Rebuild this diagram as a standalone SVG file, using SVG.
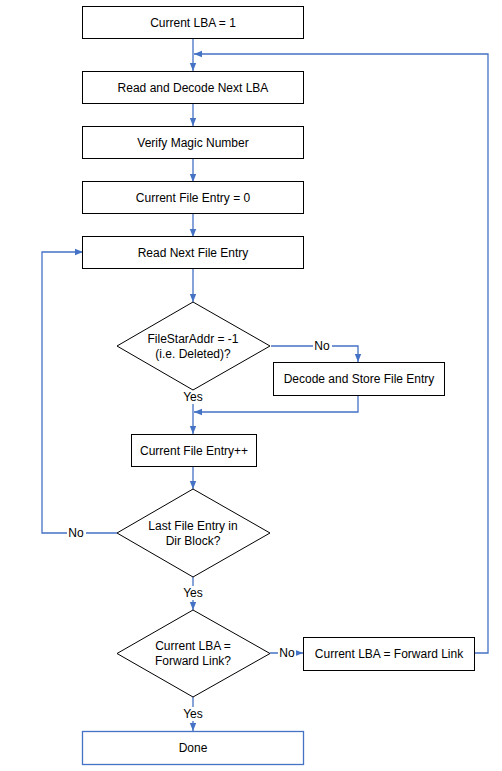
<svg xmlns="http://www.w3.org/2000/svg" width="502" height="771" viewBox="0 0 502 771">
<defs>
<marker id="ah" markerUnits="userSpaceOnUse" markerWidth="8" markerHeight="8" viewBox="0 0 8 8" refX="8" refY="4" orient="auto">
<path d="M0,0.8 L8,4 L0,7.2 Z" fill="#4472C4"/>
</marker>
<style>
.box{fill:#fff;stroke:#000;stroke-width:1}
.blue{fill:#fff;stroke:#4472C4;stroke-width:1.3}
.t{font-family:"Liberation Sans",Arial,sans-serif;font-size:12px;fill:#000;text-anchor:middle}
.c{fill:none;stroke:#4472C4;stroke-width:1.3}
.a{marker-end:url(#ah)}
.lb{fill:#fff}
</style>
</defs>
<rect width="502" height="771" fill="#fff"/>
<g id="connectors">
<path class="c a" d="M193,38 V71"/>
<path class="c a" d="M474,653 H488 V54 H194"/>
<path class="c a" d="M193,103 V126"/>
<path class="c a" d="M193,158 V182"/>
<path class="c a" d="M193,214 V237"/>
<path class="c a" d="M193,269 V302"/>
<path class="c a" d="M271,346 H358 V362"/>
<path class="c a" d="M193,389 V434"/>
<path class="c a" d="M358,395 V412 H194"/>
<path class="c a" d="M193,467 V489"/>
<path class="c a" d="M117,533 H42 V252 H83"/>
<path class="c a" d="M193,577 V610"/>
<path class="c a" d="M270,653 H303"/>
<path class="c a" d="M193,697 V731"/>
<rect class="lb" x="313" y="339" width="19" height="14"/>
<text class="t" x="322" y="350">No</text>
<rect class="lb" x="182" y="390" width="22" height="14"/>
<text class="t" x="193" y="401">Yes</text>
<rect class="lb" x="67" y="526" width="19" height="14"/>
<text class="t" x="76" y="537">No</text>
<rect class="lb" x="182" y="586" width="22" height="14"/>
<text class="t" x="193" y="597">Yes</text>
<rect class="lb" x="278" y="646" width="18" height="14"/>
<text class="t" x="287" y="657">No</text>
<rect class="lb" x="182" y="707" width="22" height="14"/>
<text class="t" x="193" y="718">Yes</text>
</g>
<g id="n1"><rect class="box" x="82.5" y="6.5" width="221" height="32"/><text class="t" x="193" y="26.5">Current LBA = 1</text></g>
<g id="n2"><rect class="box" x="82.5" y="71.5" width="221" height="32"/><text class="t" x="193" y="91.5">Read and Decode Next LBA</text></g>
<g id="n3"><rect class="box" x="82.5" y="126.5" width="221" height="32"/><text class="t" x="193" y="146.5">Verify Magic Number</text></g>
<g id="n4"><rect class="box" x="82.5" y="181.5" width="221" height="32"/><text class="t" x="193" y="201.5">Current File Entry = 0</text></g>
<g id="n5"><rect class="box" x="82.5" y="236.5" width="221" height="32"/><text class="t" x="193" y="256.5">Read Next File Entry</text></g>
<g id="d1"><polygon class="box" points="193,302 270,346 193,390 117,346"/><text class="t" x="193" y="343">FileStarAddr = -1</text><text class="t" x="193" y="358">(i.e. Deleted)?</text></g>
<g id="n6"><rect class="box" x="273.5" y="362.5" width="171" height="33"/><text class="t" x="359" y="383">Decode and Store File Entry</text></g>
<g id="n7"><rect class="box" x="131.5" y="434.5" width="125" height="32"/><text class="t" x="194" y="454.5">Current File Entry++</text></g>
<g id="d2"><polygon class="box" points="193,489 270,533 193,577 117,533"/><text class="t" x="193" y="530">Last File Entry in</text><text class="t" x="193" y="545">Dir Block?</text></g>
<g id="d3"><polygon class="box" points="193,610 270,653.5 193,697 117,653.5"/><text class="t" x="193" y="650">Current LBA =</text><text class="t" x="193" y="665">Forward Link?</text></g>
<g id="n8"><rect class="box" x="303.5" y="637.5" width="171" height="33"/><text class="t" x="389" y="658">Current LBA = Forward Link</text></g>
<g id="n9"><rect class="blue" x="82.5" y="731.5" width="221" height="33"/><text class="t" x="193" y="752">Done</text></g>
</svg>
